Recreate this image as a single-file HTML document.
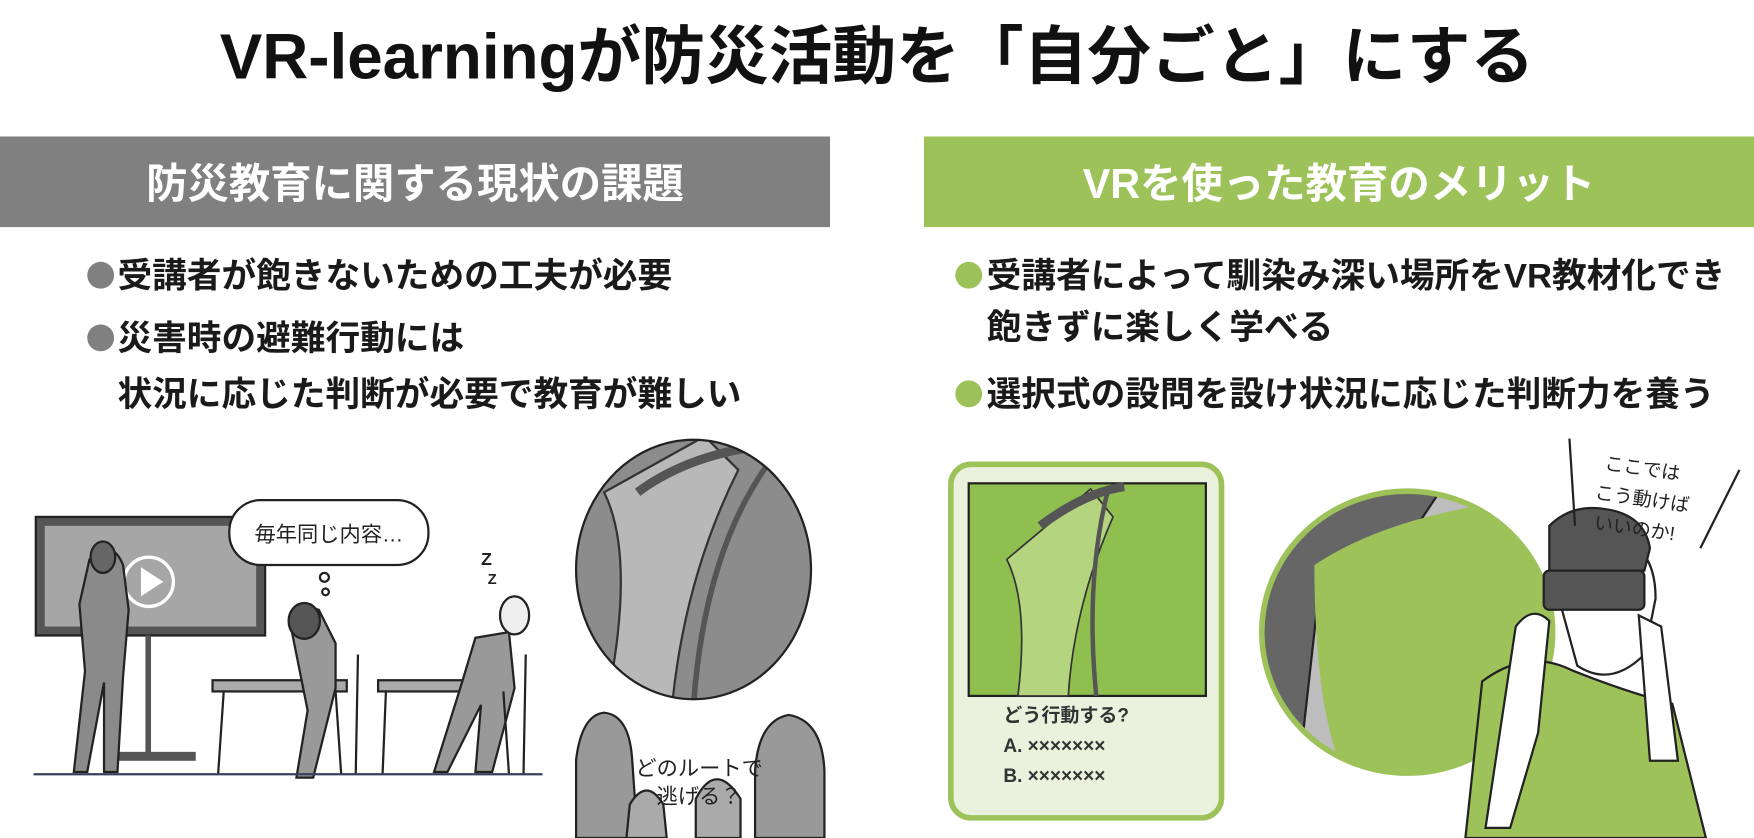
<!DOCTYPE html>
<html><head><meta charset="utf-8"><style>
html,body{margin:0;padding:0;background:#fff;}
svg{display:block;}
text{font-family:"Liberation Sans","Noto Sans CJK JP",sans-serif;}
</style></head><body>
<svg width="1754" height="838" viewBox="0 0 1568 749" preserveAspectRatio="none">
<defs>
<clipPath id="c1"><ellipse cx="620" cy="509" rx="105" ry="116"/></clipPath>
<clipPath id="c2"><ellipse cx="1258" cy="565" rx="130" ry="126"/></clipPath>
</defs>
<rect width="1568" height="749" fill="#fff"/>
<text x="784" y="70" text-anchor="middle" font-size="57" font-weight="bold" fill="#111">VR-learningが防災活動を「自分ごと」にする</text>
<rect x="0" y="122" width="742" height="81" fill="#808080"/>
<rect x="826" y="122" width="742" height="81" fill="#9dc25a"/>
<text x="371" y="177" text-anchor="middle" font-size="37" font-weight="bold" fill="#fff">防災教育に関する現状の課題</text>
<text x="1197" y="177" text-anchor="middle" font-size="37" font-weight="bold" fill="#fff">VRを使った教育のメリット</text>
<g font-size="31" fill="#1a1a1a" font-weight="bold">
<circle cx="90" cy="246" r="12" fill="#808080"/>
<text x="105" y="257">受講者が飽きないための工夫が必要</text>
<circle cx="90" cy="302" r="12" fill="#808080"/>
<text x="105" y="313">災害時の避難行動には</text>
<text x="105" y="363">状況に応じた判断が必要で教育が難しい</text>
<circle cx="866" cy="246" r="12" fill="#9dc25a"/>
<text x="882" y="257">受講者によって馴染み深い場所をVR教材化でき</text>
<text x="882" y="303">飽きずに楽しく学べる</text>
<circle cx="866" cy="352" r="12" fill="#9dc25a"/>
<text x="882" y="363">選択式の設問を設け状況に応じた判断力を養う</text>
</g>
<!-- classroom -->
<rect x="32" y="462" width="205" height="106" fill="#555" stroke="#222" stroke-width="2"/>
<rect x="40" y="470" width="189" height="90" fill="#a6a6a6"/>
<circle cx="133" cy="520" r="22" fill="none" stroke="#fff" stroke-width="3"/>
<polygon points="126,507 126,533 146,520" fill="#fff"/>
<rect x="130" y="568" width="5" height="110" fill="#555"/>
<rect x="100" y="672" width="75" height="8" fill="#555"/>
<path d="M80 500 q20-20 30 5 l5 40 l-5 60 l-5 85 h-12 l0-80 l-15 80 h-12 l10-90 l-5-60 z" fill="#8a8a8a" stroke="#222" stroke-width="2"/>
<ellipse cx="92" cy="498" rx="11" ry="14" fill="#666" stroke="#222" stroke-width="2"/>
<rect x="205" y="447" width="178" height="58" rx="28" fill="#fff" stroke="#222" stroke-width="2"/>
<text x="294" y="484" text-anchor="middle" font-size="19" fill="#222">毎年同じ内容…</text>
<circle cx="290" cy="516" r="4" fill="#fff" stroke="#222" stroke-width="2"/>
<circle cx="291" cy="529" r="3" fill="#fff" stroke="#222" stroke-width="2"/>
<text x="430" y="505" font-size="16" font-weight="bold" fill="#222">Z</text>
<text x="436" y="522" font-size="13" font-weight="bold" fill="#222">Z</text>
<rect x="190" y="608" width="120" height="10" fill="#aaa" stroke="#222" stroke-width="2"/>
<rect x="338" y="608" width="118" height="10" fill="#aaa" stroke="#222" stroke-width="2"/>
<path d="M260 560 q10-20 25-15 l15 30 l0 40 l-20 80 h-15 l10-60 z" fill="#999" stroke="#222" stroke-width="2"/>
<ellipse cx="272" cy="555" rx="14" ry="16" fill="#555" stroke="#222" stroke-width="2"/>
<path d="M425 570 l30-5 l5 50 l-20 75 h-15 l5-60 l-30 60 h-12 l25-80 z" fill="#999" stroke="#222" stroke-width="2"/>
<ellipse cx="460" cy="550" rx="13" ry="17" fill="#eee" stroke="#222" stroke-width="2"/>
<g stroke="#222" stroke-width="2"><line x1="200" y1="618" x2="195" y2="692"/><line x1="300" y1="618" x2="305" y2="692"/><line x1="345" y1="618" x2="342" y2="692"/><line x1="450" y1="618" x2="455" y2="692"/><line x1="320" y1="585" x2="318" y2="692"/><line x1="470" y1="585" x2="468" y2="692"/></g>
<line x1="30" y1="692" x2="485" y2="692" stroke="#3a3f5c" stroke-width="2"/>
<!-- left circle -->
<ellipse cx="620" cy="509" rx="105" ry="116" fill="#8c8c8c"/>
<g clip-path="url(#c1)">
<path d="M540 440 q30 60 0 200 l60 0 q10-120 60-220 l-30-30 z" fill="#b8b8b8" stroke="#333" stroke-width="2"/>
<path d="M570 440 q40-30 100-40" stroke="#555" stroke-width="8" fill="none"/>
<path d="M690 410 q-60 80 -70 220" stroke="#555" stroke-width="5" fill="none"/>
</g>
<ellipse cx="620" cy="509" rx="105" ry="116" fill="none" stroke="#222" stroke-width="2"/>
<path d="M515 749 l0-70 q5-40 25-42 q22 2 25 40 l5 72 z" fill="#999" stroke="#222" stroke-width="2"/>
<path d="M560 749 l3-30 q15-25 30 0 l3 30 z" fill="#aaa" stroke="#222" stroke-width="2"/>
<path d="M622 749 l0-35 q18-35 40 0 l0 35 z" fill="#aaa" stroke="#222" stroke-width="2"/>
<path d="M675 749 l0-60 q3-45 30-50 q30 5 32 50 l0 60 z" fill="#999" stroke="#222" stroke-width="2"/>
<text x="625" y="693" text-anchor="middle" font-size="19" fill="#222">どのルートで</text>
<text x="625" y="718" text-anchor="middle" font-size="19" fill="#222">逃げる？</text>
<!-- card -->
<rect x="850" y="415" width="242" height="316" rx="18" fill="#eaf1dd" stroke="#9dc25a" stroke-width="5"/>
<rect x="866" y="432" width="212" height="190" fill="#8fbf4f" stroke="#222" stroke-width="2"/>
<path d="M900 500 q20 40 10 122 l45 0 q5-80 40-160 l-20-25 z" fill="#b5d47f" stroke="#333" stroke-width="1.5"/>
<path d="M930 470 q40-30 75-35" stroke="#555" stroke-width="8" fill="none"/>
<path d="M990 440 q-20 80 -10 182" stroke="#555" stroke-width="4" fill="none"/>
<g font-size="17" fill="#333" font-weight="bold">
<text x="897" y="645">どう行動する?</text>
<text x="897" y="672">A. ×××××××</text>
<text x="897" y="699">B. ×××××××</text>
</g>
<!-- right circle -->
<ellipse cx="1258" cy="565" rx="130" ry="126" fill="#bdbdbd"/>
<g clip-path="url(#c2)">
<path d="M1120 700 l0-200 q20-60 60-70 q30 20 60 -10 q40 10 60 0 l-40 60 l-80 40 l-20 180 z" fill="#666" stroke="#222" stroke-width="2"/>
<path d="M1175 505 q60-40 160-55 q40 50 60 120 l-30 130 l-160 0 q-30-60 -30-195 z" fill="#9dc25a"/>
</g>
<ellipse cx="1258" cy="565" rx="130" ry="126" fill="none" stroke="#9dc25a" stroke-width="5"/>
<!-- man -->
<path d="M1310 749 l15-140 q40-30 80-10 q50 20 90 30 l30 120 z" fill="#9dc25a" stroke="#222" stroke-width="2"/>
<path d="M1395 540 q-5-60 45-60 q40 5 40 55 l-10 50 q-30 30-60 10 z" fill="#fff" stroke="#222" stroke-width="2"/>
<path d="M1385 470 q20-20 50-15 q35 5 40 35 l-5 20 h-85 z" fill="#555" stroke="#222" stroke-width="2"/>
<rect x="1380" y="510" width="90" height="35" rx="5" fill="#555" stroke="#222" stroke-width="2"/>
<path d="M1355 560 q15-20 30-5 l-10 100 l-25 85 l-22 0 z" fill="#fff" stroke="#222" stroke-width="2"/>
<path d="M1465 550 l20 10 l15 120 l-25 0 z" fill="#fff" stroke="#222" stroke-width="2"/>
<line x1="1403" y1="392" x2="1408" y2="470" stroke="#222" stroke-width="2"/>
<line x1="1555" y1="420" x2="1520" y2="490" stroke="#222" stroke-width="2"/>
<g font-size="17" fill="#222" transform="rotate(8 1470 450)">
<text x="1430" y="425">ここでは</text>
<text x="1425" y="452">こう動けば</text>
<text x="1428" y="479">いいのか!</text>
</g>
</svg>
</body></html>
